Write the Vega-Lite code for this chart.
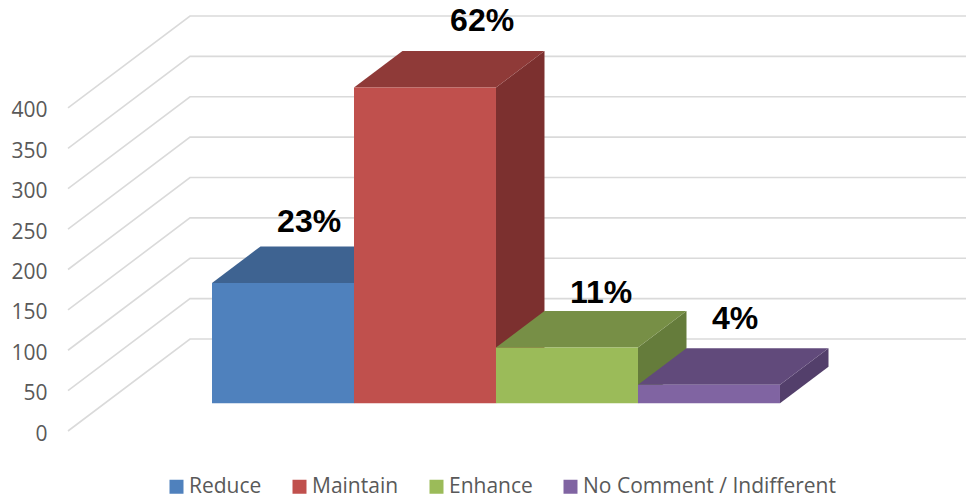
{
  "$schema": "https://vega.github.io/schema/vega-lite/v6.json",
  "width": 966,
  "height": 499,
  "autosize": "none",
  "padding": 0,
  "background": "white",
  "config": {"view": {"stroke": null}},
  "datasets": {
    "bars": [
      {"category": "Reduce", "slot": 0, "value": 149, "label": "23%"},
      {"category": "Maintain", "slot": 1, "value": 391, "label": "62%"},
      {"category": "Enhance", "slot": 2, "value": 69, "label": "11%"},
      {"category": "No Comment / Indifferent", "slot": 3, "value": 23, "label": "4%"}
    ],
    "levels": [
      {"level": 0}, {"level": 50}, {"level": 100}, {"level": 150}, {"level": 200},
      {"level": 250}, {"level": 300}, {"level": 350}, {"level": 400}
    ]
  },
  "encoding": {
    "x": {"field": "px", "type": "quantitative", "stack": null, "scale": {"domain": [-1.493, 5.31], "nice": false, "zero": false}, "axis": null},
    "y": {
      "field": "py", "type": "quantitative", "stack": null,
      "scale": {"domain": [-84.2, 533.7], "nice": false, "zero": false},
      "axis": {
        "title": null, "values": [0, 50, 100, 150, 200, 250, 300, 350, 400],
        "orient": "left", "offset": -47, "domain": false, "ticks": false, "grid": false,
        "labelPadding": 0, "labelFont": "Open Sans", "labelFontSize": 21, "labelColor": "#595959",
        "labelOffset": 3, "labelBound": false, "labelFlush": false, "labelOverlap": false
      }
    }
  },
  "layer": [
    {
      "data": {"name": "levels"},
      "transform": [
        {"calculate": "[0,1,2]", "as": "corner"},
        {"flatten": ["corner"]},
        {"calculate": "[-1.0141,-0.1549,5.31][datum.corner]", "as": "px"},
        {"calculate": "datum.level + [0,113.9,113.9][datum.corner]", "as": "py"}
      ],
      "mark": {"type": "line", "stroke": "#DADADA", "strokeWidth": 1.6},
      "encoding": {"detail": {"field": "level", "type": "nominal"}, "order": {"field": "corner", "type": "quantitative"}}
    },
    {
      "data": {"name": "bars"},
      "transform": [
        {"calculate": "[0,1]", "as": "corner"},
        {"flatten": ["corner"]},
        {"calculate": "datum.slot + 1 + datum.corner * 0.3415", "as": "px"},
        {"calculate": "34.3 + datum.value + datum.corner * 45.2", "as": "py"},
        {"calculate": "34.3 + datum.corner * 45.2", "as": "py2"}
      ],
      "mark": {"type": "area"},
      "encoding": {
        "y2": {"field": "py2"},
        "color": {
          "field": "category", "type": "nominal", "legend": null,
          "scale": {"domain": ["Reduce", "Maintain", "Enhance", "No Comment / Indifferent"], "range": ["#35547C", "#7C302F", "#657C3B", "#533F6B"]}
        }
      }
    },
    {
      "data": {"name": "bars"},
      "transform": [
        {"calculate": "[0,1,2,3]", "as": "corner"},
        {"flatten": ["corner"]},
        {"calculate": "datum.slot + [0,0.3415,1,1.3415][datum.corner]", "as": "px"},
        {"calculate": "34.3 + datum.value + [0,45.2,45.2,45.2][datum.corner]", "as": "py"},
        {"calculate": "34.3 + datum.value + [0,0,0,45.2][datum.corner]", "as": "py2"}
      ],
      "mark": {"type": "area"},
      "encoding": {
        "y2": {"field": "py2"},
        "color": {
          "field": "category", "type": "nominal", "legend": null,
          "scale": {"domain": ["Reduce", "Maintain", "Enhance", "No Comment / Indifferent"], "range": ["#3E6391", "#8F3A38", "#778F46", "#614A7B"]}
        }
      }
    },
    {
      "data": {"name": "bars"},
      "transform": [
        {"calculate": "datum.slot", "as": "px"},
        {"calculate": "datum.slot + 1", "as": "px2"},
        {"calculate": "34.3 + datum.value", "as": "py"},
        {"calculate": "34.3", "as": "py2"}
      ],
      "mark": {"type": "rect"},
      "encoding": {
        "x2": {"field": "px2"},
        "y2": {"field": "py2"},
        "color": {
          "field": "category", "type": "nominal",
          "scale": {"domain": ["Reduce", "Maintain", "Enhance", "No Comment / Indifferent"], "range": ["#4F81BD", "#C0504D", "#9BBB59", "#8064A2"]},
          "legend": {
            "title": null, "orient": "none", "legendX": 166, "legendY": 476, "direction": "horizontal", "columns": 4,
            "symbolType": "square", "symbolSize": 196, "symbolStrokeWidth": 0, "labelFont": "Open Sans", "labelFontSize": 21,
            "labelColor": "#595959", "labelOffset": 2, "labelLimit": 400, "columnPadding": 27
          }
        }
      }
    },
    {
      "data": {"name": "bars"},
      "transform": [
        {"filter": "datum.slot == 0"},
        {"calculate": "datum.slot + 0.5 + 0.17", "as": "px"},
        {"calculate": "34.3 + datum.value + 45.2", "as": "py"}
      ],
      "mark": {"type": "text", "font": "Liberation Sans", "fontWeight": "bold", "fontSize": 32, "color": "#000000", "align": "center", "baseline": "middle", "dx": 2, "dy": -24.5},
      "encoding": {"text": {"field": "label", "type": "nominal"}}
    },
    {
      "data": {"name": "bars"},
      "transform": [
        {"filter": "datum.slot == 1"},
        {"calculate": "datum.slot + 0.5 + 0.17", "as": "px"},
        {"calculate": "34.3 + datum.value + 45.2", "as": "py"}
      ],
      "mark": {"type": "text", "font": "Liberation Sans", "fontWeight": "bold", "fontSize": 32, "color": "#000000", "align": "center", "baseline": "middle", "dx": 33, "dy": -30},
      "encoding": {"text": {"field": "label", "type": "nominal"}}
    },
    {
      "data": {"name": "bars"},
      "transform": [
        {"filter": "datum.slot == 2"},
        {"calculate": "datum.slot + 0.5 + 0.17", "as": "px"},
        {"calculate": "34.3 + datum.value + 45.2", "as": "py"}
      ],
      "mark": {"type": "text", "font": "Liberation Sans", "fontWeight": "bold", "fontSize": 32, "color": "#000000", "align": "center", "baseline": "middle", "dx": 10, "dy": -18},
      "encoding": {"text": {"field": "label", "type": "nominal"}}
    },
    {
      "data": {"name": "bars"},
      "transform": [
        {"filter": "datum.slot == 3"},
        {"calculate": "datum.slot + 0.5 + 0.17", "as": "px"},
        {"calculate": "34.3 + datum.value + 45.2", "as": "py"}
      ],
      "mark": {"type": "text", "font": "Liberation Sans", "fontWeight": "bold", "fontSize": 32, "color": "#000000", "align": "center", "baseline": "middle", "dx": 2, "dy": -29.5},
      "encoding": {"text": {"field": "label", "type": "nominal"}}
    }
  ],
  "resolve": {"scale": {"color": "independent"}}
}
